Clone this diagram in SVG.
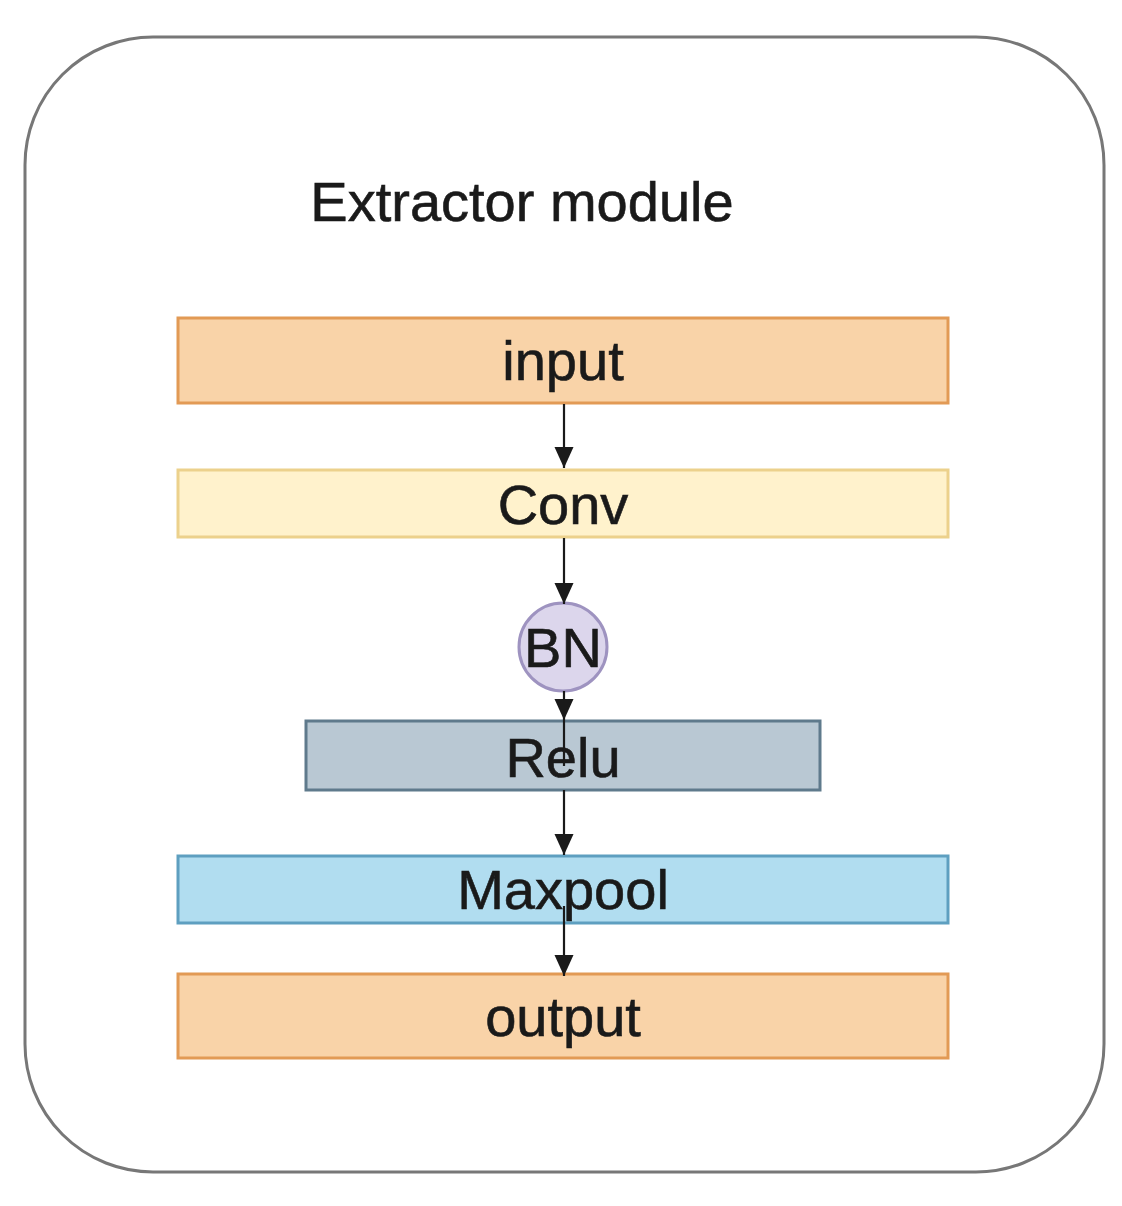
<svg xmlns="http://www.w3.org/2000/svg" width="1122" height="1206" viewBox="0 0 1122 1206">
<style>
text{font-family:"Liberation Sans",Arial,sans-serif;font-size:56px;fill:#1a1a1a;stroke:#1a1a1a;stroke-width:0.6;text-anchor:middle}
.orange{fill:#f9d3a8;stroke:#e29a55;stroke-width:3}
.yellow{fill:#fff2cc;stroke:#ecd18c;stroke-width:3}
.purple{fill:#dcd6ec;stroke:#9e93c0;stroke-width:3}
.slate{fill:#b9c8d3;stroke:#5f7a8c;stroke-width:3}
.blue{fill:#b1ddf0;stroke:#5e9fc0;stroke-width:3}
.edge{stroke:#1a1a1a;stroke-width:2.2;fill:none}
</style>
<defs>
<marker id="arrow" viewBox="0 0 22 22" refX="21" refY="11" markerWidth="22" markerHeight="22" markerUnits="userSpaceOnUse" orient="auto">
<path d="M0,1.5 L21,11 L0,20.5 z" fill="#1a1a1a"/>
</marker>
</defs>
<rect x="0" y="0" width="1122" height="1206" fill="#ffffff"/>
<g id="module">
<rect x="25" y="37" width="1079" height="1135" rx="128" ry="128" fill="#ffffff" stroke="#777777" stroke-width="3"/>
<text x="522" y="221">Extractor module</text>
</g>
<g id="input"><rect class="orange" x="178" y="318" width="770" height="85"/><text x="563" y="380">input</text></g>
<g id="conv"><rect class="yellow" x="178" y="470" width="770" height="67"/><text x="563" y="524">Conv</text></g>
<g id="bn"><circle class="purple" cx="563" cy="647" r="44"/><text x="563" y="667">BN</text></g>
<g id="relu"><rect class="slate" x="306" y="721" width="514" height="69"/><text x="563" y="777">Relu</text></g>
<g id="maxpool"><rect class="blue" x="178" y="856" width="770" height="67"/><text x="563" y="909">Maxpool</text></g>
<g id="output"><rect class="orange" x="178" y="974" width="770" height="84"/><text x="563" y="1036">output</text></g>
<g id="connectors">
<line class="edge" x1="564" y1="404" x2="564" y2="468" marker-end="url(#arrow)"/>
<line class="edge" x1="564" y1="538" x2="564" y2="604" marker-end="url(#arrow)"/>
<line class="edge" x1="564" y1="691" x2="564" y2="720" marker-end="url(#arrow)"/>
<line class="edge" x1="564" y1="720" x2="564" y2="766"/>
<line class="edge" x1="564" y1="790" x2="564" y2="855" marker-end="url(#arrow)"/>
<line class="edge" x1="564" y1="906" x2="564" y2="976" marker-end="url(#arrow)"/>
</g>
</svg>
